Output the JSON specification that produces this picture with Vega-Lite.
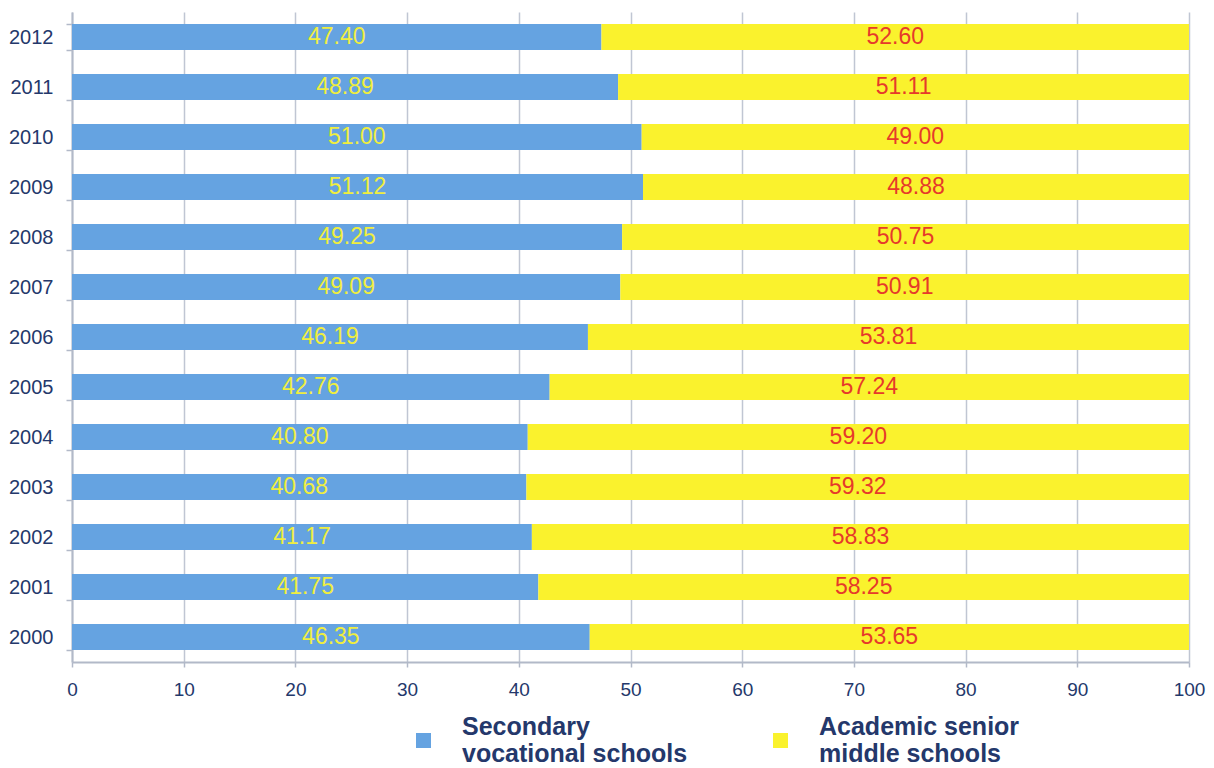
{
  "$schema": "https://vega.github.io/schema/vega-lite/v6.json",
  "width": 1117,
  "height": 650,
  "autosize": "none",
  "padding": {"left": 72, "top": 12, "right": 25, "bottom": 106},
  "background": "white",
  "config": {"view": {"stroke": null}, "font": "Liberation Sans"},
  "data": {"values": [
    {"year": "2012", "series": "Secondary vocational schools", "value": 47.40},
    {"year": "2012", "series": "Academic senior middle schools", "value": 52.60},
    {"year": "2011", "series": "Secondary vocational schools", "value": 48.89},
    {"year": "2011", "series": "Academic senior middle schools", "value": 51.11},
    {"year": "2010", "series": "Secondary vocational schools", "value": 51.00},
    {"year": "2010", "series": "Academic senior middle schools", "value": 49.00},
    {"year": "2009", "series": "Secondary vocational schools", "value": 51.12},
    {"year": "2009", "series": "Academic senior middle schools", "value": 48.88},
    {"year": "2008", "series": "Secondary vocational schools", "value": 49.25},
    {"year": "2008", "series": "Academic senior middle schools", "value": 50.75},
    {"year": "2007", "series": "Secondary vocational schools", "value": 49.09},
    {"year": "2007", "series": "Academic senior middle schools", "value": 50.91},
    {"year": "2006", "series": "Secondary vocational schools", "value": 46.19},
    {"year": "2006", "series": "Academic senior middle schools", "value": 53.81},
    {"year": "2005", "series": "Secondary vocational schools", "value": 42.76},
    {"year": "2005", "series": "Academic senior middle schools", "value": 57.24},
    {"year": "2004", "series": "Secondary vocational schools", "value": 40.80},
    {"year": "2004", "series": "Academic senior middle schools", "value": 59.20},
    {"year": "2003", "series": "Secondary vocational schools", "value": 40.68},
    {"year": "2003", "series": "Academic senior middle schools", "value": 59.32},
    {"year": "2002", "series": "Secondary vocational schools", "value": 41.17},
    {"year": "2002", "series": "Academic senior middle schools", "value": 58.83},
    {"year": "2001", "series": "Secondary vocational schools", "value": 41.75},
    {"year": "2001", "series": "Academic senior middle schools", "value": 58.25},
    {"year": "2000", "series": "Secondary vocational schools", "value": 46.35},
    {"year": "2000", "series": "Academic senior middle schools", "value": 53.65}
  ]},
  "transform": [
    {"stack": "value", "groupby": ["year"], "sort": [{"field": "series", "order": "descending"}], "as": ["x0", "x1"]},
    {"calculate": "(datum.x0 + datum.x1) / 2", "as": "mid"}
  ],
  "encoding": {
    "y": {
      "field": "year", "type": "ordinal", "sort": "descending",
      "scale": {"paddingInner": 0.48, "paddingOuter": 0.24},
      "axis": {
        "title": null, "labelFontSize": 20, "labelColor": "#24386b",
        "domainColor": "#b2b9c8", "domainWidth": 2, "tickColor": "#b2b9c8", "tickWidth": 1.5,
        "tickSize": 6, "tickBand": "extent", "labelPadding": 13, "grid": false
      }
    }
  },
  "layer": [
    {
      "mark": {"type": "bar"},
      "encoding": {
        "x": {
          "field": "x0", "type": "quantitative",
          "scale": {"domain": [0, 100], "nice": false},
          "axis": {
            "title": null, "values": [0, 10, 20, 30, 40, 50, 60, 70, 80, 90, 100],
            "grid": true, "gridColor": "#c0c6d3", "gridWidth": 1.5,
            "labelFontSize": 19, "labelColor": "#24386b", "labelPadding": 13, "labelFlush": false,
            "tickSize": 5, "tickColor": "#b2b9c8", "tickWidth": 1.5,
            "domainColor": "#b2b9c8", "domainWidth": 2
          }
        },
        "x2": {"field": "x1"},
        "color": {
          "field": "series", "type": "nominal",
          "scale": {"domain": ["Secondary vocational schools", "Academic senior middle schools"], "range": ["#65a3e1", "#faf22d"]},
          "legend": {
            "title": null, "orient": "none", "legendX": 339, "legendY": 716,
            "direction": "horizontal", "columns": 2, "columnPadding": 80,
            "symbolType": "square", "symbolSize": 225, "symbolStrokeWidth": 0,
            "labelOffset": 26, "labelFontSize": 25, "labelFontWeight": "bold",
            "labelColor": "#24386b", "labelLimit": 400, "padding": 0,
            "labelExpr": "datum.label == 'Secondary vocational schools' ? ['Secondary', 'vocational schools'] : ['Academic senior', 'middle schools']",
            "encode": {"labels": {"update": {"lineHeight": {"value": 27}, "dy": {"value": -13.5}}}}
          }
        }
      }
    },
    {
      "mark": {"type": "text", "fontSize": 23, "align": "center", "baseline": "middle"},
      "encoding": {
        "x": {"field": "mid", "type": "quantitative"},
        "text": {"field": "value", "type": "quantitative", "format": ".2f"},
        "color": {
          "condition": {"test": "datum.series == 'Secondary vocational schools'", "value": "#f0ee3e"},
          "value": "#e63a2a"
        }
      }
    }
  ]
}
